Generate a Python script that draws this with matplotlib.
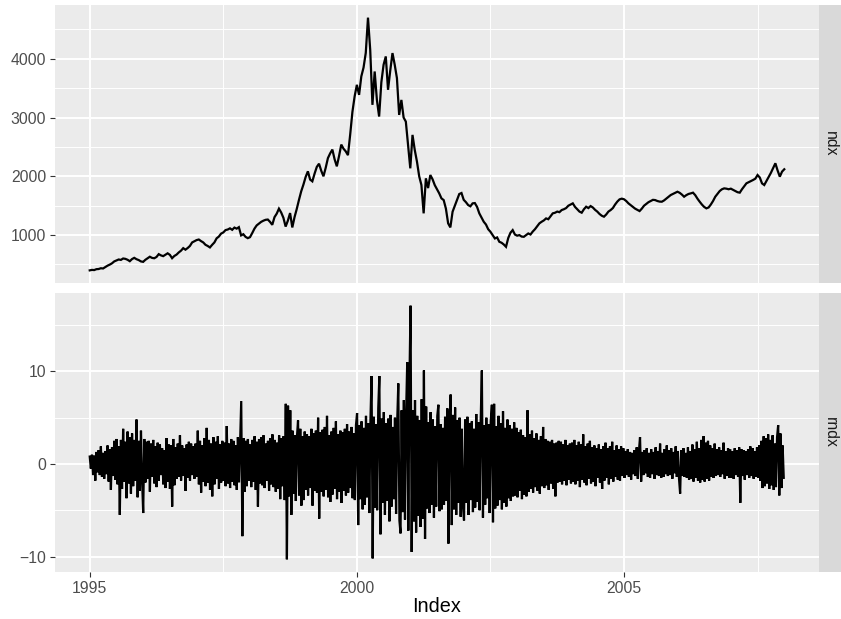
import numpy as np
import matplotlib
matplotlib.use("Agg")
import matplotlib.pyplot as plt

plt.rcParams['font.family'] = ['Liberation Sans', 'DejaVu Sans']

# ---------------- data ----------------
# ndx: semi-monthly readings, 1995.0 .. 2008.0
ndx_1995 = [400, 408, 405, 420, 423, 436, 432, 455, 480, 498, 520, 552, 568, 585, 578, 602, 596, 580, 556, 592, 613, 590, 575, 552]
ndx_1996 = [545, 580, 605, 632, 612, 606, 628, 676, 655, 642, 665, 690, 664, 607, 645, 668, 705, 735, 778, 752, 780, 815, 875, 895]
ndx_1997 = [915, 925, 898, 875, 835, 815, 790, 835, 875, 945, 975, 1025, 1045, 1085, 1095, 1115, 1090, 1128, 1110, 1135, 995, 1015, 970, 948]
ndx_1998 = [965, 1035, 1110, 1165, 1195, 1225, 1245, 1260, 1265, 1225, 1175, 1305, 1365, 1450, 1385, 1295, 1145, 1245, 1375, 1130, 1305, 1445, 1600, 1745]
ndx_1999 = [1860, 1990, 2085, 1945, 1915, 2045, 2160, 2215, 2095, 2000, 2145, 2310, 2390, 2455, 2290, 2170, 2345, 2540, 2470, 2425, 2360, 2710, 3095, 3360]
ndx_2000 = [3557, 3386, 3700, 3850, 4100, 4700, 4150, 3216, 3784, 3300, 3017, 3600, 3898, 4040, 3472, 3800, 4097, 3900, 3671, 3045, 3300, 3000, 2931, 2534]
ndx_2001 = [2136, 2705, 2450, 2250, 2000, 1852, 1370, 1966, 1800, 2022, 1950, 1850, 1780, 1710, 1625, 1596, 1450, 1200, 1131, 1398, 1500, 1600, 1699, 1716]
ndx_2002 = [1600, 1560, 1511, 1490, 1540, 1545, 1480, 1370, 1300, 1227, 1180, 1100, 1057, 1000, 943, 960, 886, 870, 840, 801, 950, 1040, 1085, 1010]
ndx_2003 = [990, 1000, 975, 971, 1000, 1028, 1010, 1060, 1100, 1150, 1200, 1227, 1250, 1284, 1270, 1320, 1370, 1380, 1400, 1390, 1426, 1440, 1460, 1500]
ndx_2004 = [1520, 1540, 1480, 1440, 1400, 1381, 1440, 1483, 1460, 1494, 1470, 1430, 1400, 1360, 1330, 1313, 1350, 1400, 1426, 1460, 1520, 1570, 1608, 1620]
ndx_2005 = [1610, 1580, 1540, 1511, 1480, 1450, 1430, 1409, 1450, 1500, 1530, 1560, 1580, 1600, 1596, 1580, 1570, 1568, 1590, 1620, 1650, 1682, 1700, 1720]
ndx_2006 = [1738, 1720, 1690, 1653, 1680, 1700, 1710, 1722, 1680, 1620, 1568, 1520, 1480, 1455, 1470, 1520, 1580, 1653, 1700, 1750, 1780, 1795, 1790, 1780]
ndx_2007 = [1790, 1770, 1750, 1730, 1722, 1780, 1830, 1881, 1900, 1920, 1938, 1960, 2022, 1980, 1880, 1852, 1920, 1990, 2060, 2140, 2222, 2100, 1994, 2080, 2120]

# rndx: weekly-ish readings (48 per year), 1995.0 .. 2008.0
rndx_1995 = [0.8, -0.5, 1.0, -1.2, 0.9, -1.8, 1.3, -0.9, 1.5, -1.2, 1.9, -1.4, 1.2, -1.6, 1.4, -1.1, 2.0, -1.9, 1.6, -2.8, 1.8, -1.3, 2.5, -1.7, 2.7, -2.2, 1.9, -5.5, 2.6, -2.7, 3.8, -1.9, 2.4, -3.7, 3.5, -2.1, 2.9, -3.2, 3.3, -2.4, 2.6, -1.8, 4.8, -3.6, 2.5, -2.9, 3.6, -1.7]
rndx_1996 = [-5.3, 2.7, -2.0, 2.4, -1.6, 2.5, -3.0, 2.2, -1.4, 2.6, -2.1, 1.9, -2.5, 2.3, -1.8, 2.1, -1.2, 1.7, -2.2, 1.5, -2.6, 2.8, -1.9, 2.1, -2.7, 2.0, -4.6, 2.7, -2.3, 1.8, -1.6, 2.2, -1.4, 3.1, -1.8, 2.0, -1.3, 1.7, -2.9, 2.1, -1.5, 2.4, -1.8, 2.2, -1.2, 1.9, -1.6, 2.2]
rndx_1997 = [-1.4, 3.6, -2.2, 2.5, -3.1, 2.0, -1.9, 2.8, -2.4, 3.9, -2.0, 2.6, -2.8, 2.2, -3.5, 2.9, -2.2, 2.4, -1.6, 3.0, -2.7, 2.1, -2.0, 2.5, -1.8, 2.3, -2.4, 4.1, -2.1, 2.2, -2.6, 2.7, -1.9, 2.5, -2.3, 2.0, -2.8, 2.9, -2.0, 2.6, 6.8, -7.8, 2.8, -3.0, 2.5, -2.4, 2.7, -1.8]
rndx_1998 = [2.1, -2.5, 2.6, -1.9, 3.0, -2.8, 2.4, -4.6, 2.7, -2.1, 2.9, -2.3, 3.1, -2.6, 2.2, -1.8, 2.5, -2.9, 2.8, -2.2, 3.2, -2.5, 2.6, -3.0, 2.3, -2.7, 3.1, -3.8, 2.8, -2.4, 3.0, -3.9, 6.5, -10.3, 6.3, -3.5, 5.8, -5.5, 3.6, -3.2, 3.1, -4.0, 2.9, 4.7, -3.4, 3.8, -4.5, 3.0]
rndx_1999 = [-3.9, 3.5, -2.8, 3.2, -3.4, 3.0, -2.6, 3.8, -4.5, 3.3, -2.9, 3.6, -3.1, 5.0, -5.9, 3.4, -3.0, 3.7, -3.5, 4.0, -2.8, 5.2, -3.6, 3.1, -4.1, 3.5, -3.3, 3.9, -2.7, 4.6, -3.8, 3.2, -3.0, 3.6, -4.2, 3.4, -2.9, 3.8, -3.4, 4.3, -3.1, 3.5, -2.6, 4.0, -3.7, 3.3, -3.9, 4.2]
rndx_2000 = [5.5, -6.6, 4.2, -3.8, 4.6, -4.9, 3.9, -4.4, 5.2, -3.6, 4.4, -5.3, 4.8, 9.5, -10.2, 5.1, -4.7, 4.3, -5.0, 6.0, 9.5, -7.6, 4.9, -4.2, 5.6, -5.5, 4.4, -4.0, 4.9, -6.2, 5.3, -4.6, 4.0, -3.8, 5.0, -5.4, 4.5, 8.7, -6.1, -7.5, 5.8, -5.2, 6.9, -6.0, 5.4, 11.0, -7.2, 9.0]
rndx_2001 = [17.1, -9.5, 5.8, -6.2, 6.9, -7.4, 5.2, -5.6, 4.7, -6.8, 7.0, -5.9, 10.1, -8.1, 6.2, -4.8, 4.5, -5.3, 5.6, -4.4, 4.8, -5.8, 4.1, -4.6, 5.2, 6.4, -5.1, 4.3, -4.9, 3.9, -4.4, 5.1, -4.0, 6.0, -8.6, 4.6, 7.5, -6.6, 5.3, -4.9, 6.1, -5.5, 4.7, -4.2, 5.0, -5.7, 3.8, -4.5]
rndx_2002 = [-6.1, 4.8, -4.2, 5.1, -5.5, 4.4, -3.9, 4.6, -5.2, 3.8, -4.7, 5.4, -4.1, 4.5, -5.0, 4.9, 10.1, -5.8, 4.2, -4.4, 5.0, -3.7, 4.3, -5.3, 4.6, 6.4, -6.3, 6.5, -4.8, 4.1, -4.5, 5.2, -3.9, 4.4, -4.9, 5.7, -4.2, 3.9, -4.6, 4.8, -3.7, 4.2, -4.0, 3.8, -3.5, 4.5, -3.4, 3.9]
rndx_2003 = [-3.6, 3.4, -2.9, 3.7, -3.8, 3.1, -3.3, 2.9, -3.5, 5.8, -3.0, 3.2, -2.7, 3.6, -3.1, 2.8, -2.5, 3.3, -2.9, 2.6, -3.2, 3.0, -2.4, 4.0, -2.6, 2.7, -2.3, 2.5, -2.8, 2.4, -2.1, 2.6, -2.7, 2.2, -3.5, 2.3, -2.0, 2.5, -1.9, 2.4, -2.2, 2.1, -1.8, 2.6, -2.3, 2.0, -1.7, 2.2]
rndx_2004 = [-2.1, 2.3, -1.9, 2.6, -2.2, 2.0, -1.8, 2.4, -2.5, 2.1, -1.7, 3.2, -2.0, 1.9, -2.3, 2.2, -1.6, 2.5, -2.1, 1.8, -1.9, 2.0, -2.4, 1.7, -1.5, 2.1, -2.0, 1.6, -2.7, 1.9, -1.8, 2.3, -1.5, 1.7, -2.2, 1.9, -1.6, 2.4, -1.9, 1.5, -1.4, 2.0, -1.7, 1.6, -1.8, 1.9, -1.3, 1.7]
rndx_2005 = [-1.5, 1.4, -1.2, 1.6, -1.4, 1.3, -1.7, 1.2, -1.1, 1.5, -1.3, 1.8, -1.6, 1.4, 2.9, -1.9, 1.3, -1.2, 1.5, -1.0, 1.7, -1.4, 1.2, -1.5, 1.6, -1.1, 1.3, -1.6, 1.8, -1.2, 1.4, -1.3, 2.2, -1.5, 1.2, -1.4, 1.6, -1.1, 2.0, -1.3, 1.5, -1.2, 1.7, -1.6, 1.3, -1.0, 1.9, -1.4]
rndx_2006 = [1.4, -1.6, -3.2, 1.5, -1.3, 1.7, -1.4, 1.2, -1.5, 1.8, -1.7, 1.4, -1.6, 2.1, -1.9, 1.6, -1.5, 2.4, -1.8, 1.7, -2.0, 2.6, -1.7, 3.0, -1.9, 2.3, -1.6, 2.5, -1.8, 2.0, -1.4, 1.7, -1.5, 2.2, -1.3, 1.6, -1.2, 1.8, -1.4, 1.5, -1.1, 2.3, -1.6, 1.4, -1.3, 1.7, -1.5, 1.6]
rndx_2007 = [-1.5, 1.4, -1.6, 1.7, -1.2, 1.5, -1.4, 1.8, -4.2, 1.6, -1.3, 1.5, -1.7, 1.4, -1.2, 1.6, -1.5, 1.9, -1.3, 1.7, -1.6, 1.4, -1.4, 1.8, -1.5, 2.0, -1.8, 2.5, -2.6, 3.0, -2.4, 2.8, -2.1, 3.2, -2.7, 2.6, -2.3, 3.1, -2.8, 2.2, -2.5, 2.9, 4.2, -3.4, 3.3, -2.6, 2.0, -1.5]

facet_labels = ["ndx", "rndx"]
x_ticks = [1995, 2000, 2005]
x_minor = [1997.5, 2002.5, 2007.5]
ndx_ticks = [1000, 2000, 3000, 4000]
ndx_minor = [500, 1500, 2500, 3500, 4500]
rndx_ticks = [-10, 0, 10]
rndx_minor = [-5, 5, 15]
x_title = "Index"
start_year, end_year = 1995.0, 2008.0

ndx = np.array(ndx_1995 + ndx_1996 + ndx_1997 + ndx_1998 + ndx_1999 + ndx_2000 + ndx_2001 +
               ndx_2002 + ndx_2003 + ndx_2004 + ndx_2005 + ndx_2006 + ndx_2007, dtype=float)
rndx = np.array(rndx_1995 + rndx_1996 + rndx_1997 + rndx_1998 + rndx_1999 + rndx_2000 + rndx_2001 +
                rndx_2002 + rndx_2003 + rndx_2004 + rndx_2005 + rndx_2006 + rndx_2007, dtype=float)
t_ndx = np.linspace(start_year, end_year, len(ndx))
t_rndx = np.linspace(start_year, end_year - 0.01, len(rndx))

# ---------------- figure ----------------
W, H = 841, 619
fig = plt.figure(figsize=(W / 100, H / 100), dpi=100)
fig.patch.set_facecolor("white")

px_left, px_right = 55, 819
panels_px = [(5, 283), (293, 572)]
strip_w = 22

def expand(lo, hi, f=0.05):
    r = hi - lo
    return lo - f * r, hi + f * r

xlim = expand(start_year, end_year)

series = [(t_ndx, ndx, ndx_ticks, ndx_minor), (t_rndx, rndx, rndx_ticks, rndx_minor)]

for i, ((top, bot), (tt, yy, yt, ym), lab) in enumerate(zip(panels_px, series, facet_labels)):
    ax = fig.add_axes([px_left / W, 1 - bot / H, (px_right - px_left) / W, (bot - top) / H])
    ax.set_facecolor("#EBEBEB")
    for s in ax.spines.values():
        s.set_visible(False)
    ax.plot(tt, yy, color="black", lw=1.6, solid_joinstyle="miter", zorder=3)
    ax.set_xlim(*xlim)
    ax.set_ylim(*expand(yy.min(), yy.max()))
    ax.set_yticks(yt)
    ax.set_yticks(ym, minor=True)
    ax.set_xticks(x_ticks)
    ax.set_xticks(x_minor, minor=True)
    ax.grid(which="major", color="white", lw=1.4, zorder=0)
    ax.grid(which="minor", color="white", lw=0.7, zorder=0)
    ax.set_axisbelow(True)
    ax.tick_params(which="minor", length=0)
    ax.tick_params(which="major", direction="out", length=3.6, width=0.8, color="#333333",
                   labelcolor="#4D4D4D", labelsize=11.3, pad=2.8)
    ax.set_yticklabels([f"{v:g}".replace("-", "\u2212") for v in yt])
    if i == 0:
        ax.tick_params(axis="x", which="both", bottom=False, labelbottom=False)
    else:
        ax.set_xticklabels([str(v) for v in x_ticks])
    # strip
    sax = fig.add_axes([px_right / W, 1 - bot / H, strip_w / W, (bot - top) / H])
    sax.set_facecolor("#D9D9D9")
    sax.set_xticks([]); sax.set_yticks([])
    for s in sax.spines.values():
        s.set_visible(False)
    sax.text(0.5, 0.5, lab, rotation=-90, ha="center", va="center", fontsize=11.3,
             color="#1A1A1A", transform=sax.transAxes)

fig.text((px_left + px_right) / 2 / W, 1 - 607 / H, x_title, ha="center", va="center",
         fontsize=14.3, color="black")

fig.savefig("out.png", dpi=100)
